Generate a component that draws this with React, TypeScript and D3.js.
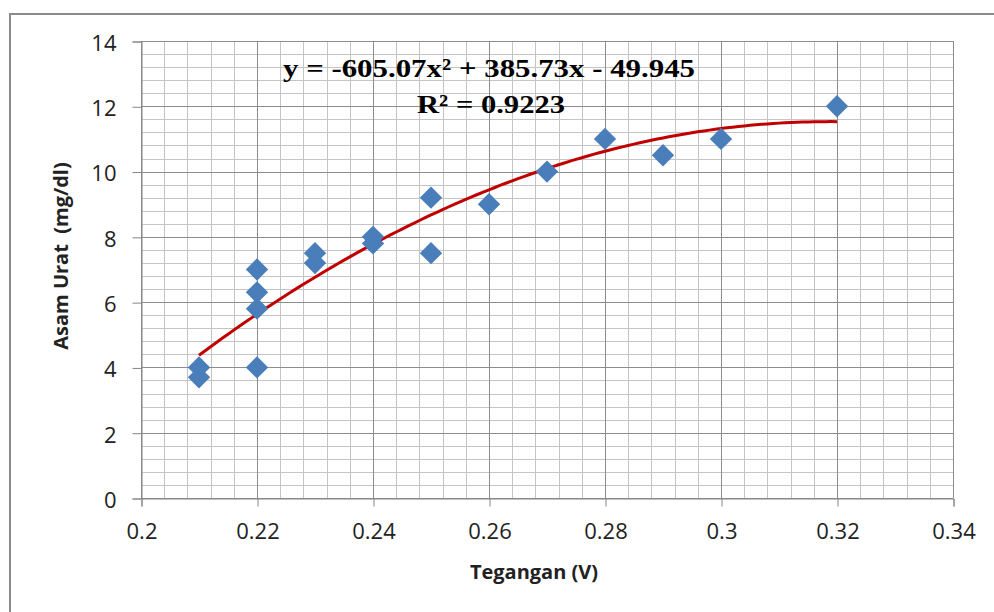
import React, { useRef, useEffect } from 'react';
import * as d3 from 'd3';

// values
const tegangan = [0.21, 0.21, 0.22, 0.22, 0.22, 0.22, 0.23, 0.23, 0.24, 0.24, 0.25, 0.25, 0.26, 0.27, 0.28, 0.29, 0.3, 0.32];
const asamUrat = [4.0, 3.7, 7.0, 6.3, 5.8, 4.0, 7.5, 7.2, 8.0, 7.8, 9.2, 7.5, 9.0, 10.0, 11.0, 10.5, 11.0, 12.0];
const xTicks = [0.2, 0.22, 0.24, 0.26, 0.28, 0.3, 0.32, 0.34];
const yTicks = [0, 2, 4, 6, 8, 10, 12, 14];
// trendline y = a*x^2 + b*x + c, as printed on the chart
const trendCoef = [-605.07, 385.73, -49.945];
const equationText = 'y = -605.07x² + 385.73x - 49.945';
const r2Text = 'R² = 0.9223';

function App() {
	const width = 994;
	const height = 612;
	const svgRef = useRef(null);

	useEffect(() => {
		const svg = d3.select(svgRef.current);
		svg.selectAll('*').remove();

		const xScale = d3.scaleLinear().domain([0.2, 0.34]).range([141, 953]);
		const yScale = d3.scaleLinear().domain([0, 14]).range([498, 41]);
		const [x0, x1] = xScale.range();
		const [y0, y1] = yScale.range();

		// chart border (runs off right and bottom)
		svg
			.append('rect')
			.attr('x', 10)
			.attr('y', 14)
			.attr('width', 1100)
			.attr('height', 800)
			.attr('fill', 'white')
			.attr('stroke', '#8a8a8a')
			.attr('stroke-width', 2);

		// minor grid
		const grid = svg.append('g').attr('shape-rendering', 'crispEdges');
		const minorX = d3.range(0, 36).map((i) => 0.2 + i * 0.004);
		const minorY = d3.range(0, 36).map((i) => i * 0.4);
		grid
			.selectAll('.mx')
			.data(minorX)
			.join('line')
			.attr('x1', (d) => Math.round(xScale(d)) + 0.5)
			.attr('x2', (d) => Math.round(xScale(d)) + 0.5)
			.attr('y1', y0)
			.attr('y2', y1)
			.attr('stroke', '#c4c4c4');
		grid
			.selectAll('.my')
			.data(minorY)
			.join('line')
			.attr('y1', (d) => Math.round(yScale(d)) + 0.5)
			.attr('y2', (d) => Math.round(yScale(d)) + 0.5)
			.attr('x1', x0)
			.attr('x2', x1)
			.attr('stroke', '#c4c4c4');
		// major grid
		grid
			.selectAll('.gx')
			.data(xTicks)
			.join('line')
			.attr('x1', (d) => Math.round(xScale(d)) + 0.5)
			.attr('x2', (d) => Math.round(xScale(d)) + 0.5)
			.attr('y1', y0)
			.attr('y2', y1)
			.attr('stroke', '#8c8c8c');
		grid
			.selectAll('.gy')
			.data(yTicks)
			.join('line')
			.attr('y1', (d) => Math.round(yScale(d)) + 0.5)
			.attr('y2', (d) => Math.round(yScale(d)) + 0.5)
			.attr('x1', x0)
			.attr('x2', x1)
			.attr('stroke', '#8c8c8c');

		// axes
		const xAxis = d3
			.axisBottom(xScale)
			.tickValues(xTicks)
			.tickSize(8)
			.tickPadding(14)
			.tickFormat((d) => String(+(+d).toFixed(2)));
		const gx = svg
			.append('g')
			.attr('transform', `translate(0.5,${Math.round(y0) + 0.5})`)
			.call(xAxis);
		const yAxis = d3.axisLeft(yScale).tickValues(yTicks).tickSize(9).tickPadding(16);
		const gy = svg
			.append('g')
			.attr('transform', `translate(${Math.round(x0) + 0.5},0.5)`)
			.call(yAxis);
		[gx, gy].forEach((g) => {
			g.select('.domain').attr('stroke', '#868686');
			g.selectAll('.tick line').attr('stroke', '#868686');
			g.selectAll('.tick text')
				.attr('fill', '#222')
				.style('font-family', '"Open Sans", sans-serif')
				.style('font-size', '22px');
		});
		gy.selectAll('.tick text').attr('dy', '0.4em');
		gx.selectAll('.tick text').attr('dy', '0.85em');

		// trendline from the printed equation
		const [a, b, c] = trendCoef;
		const trendX = d3.range(0, 111).map((i) => 0.21 + i * 0.001);
		const trendLine = d3
			.line()
			.x((d) => xScale(d))
			.y((d) => yScale(a * d * d + b * d + c));
		svg
			.append('path')
			.datum(trendX)
			.attr('d', trendLine)
			.attr('fill', 'none')
			.attr('stroke', '#c00000')
			.attr('stroke-width', 3);

		// points
		const diamond = d3.symbol().type(d3.symbolSquare).size(250);
		svg
			.append('g')
			.selectAll('path')
			.data(tegangan)
			.join('path')
			.attr('d', diamond)
			.attr('transform', (d, i) => `translate(${xScale(d)},${yScale(asamUrat[i])}) rotate(45)`)
			.attr('fill', '#4a7ebb');

		// trendline labels, stretched wide like the picture
		svg
			.append('text')
			.attr('x', 283)
			.attr('y', 77)
			.attr('textLength', 412)
			.attr('lengthAdjust', 'spacingAndGlyphs')
			.style('font-family', '"Liberation Serif", "Times New Roman", serif')
			.style('font-weight', 'bold')
			.style('font-size', '26px')
			.text(equationText);
		svg
			.append('text')
			.attr('x', 417)
			.attr('y', 113)
			.attr('textLength', 148)
			.attr('lengthAdjust', 'spacingAndGlyphs')
			.style('font-family', '"Liberation Serif", "Times New Roman", serif')
			.style('font-weight', 'bold')
			.style('font-size', '26px')
			.text(r2Text);

		svg
			.append('text')
			.attr('x', 534)
			.attr('y', 579)
			.attr('text-anchor', 'middle')
			.attr('fill', '#222')
			.style('font-family', '"Open Sans", sans-serif')
			.style('font-weight', 'bold')
			.style('font-size', '20px')
			.text('Tegangan (V)');
		svg
			.append('text')
			.attr('transform', 'translate(68,256) rotate(-90)')
			.attr('text-anchor', 'middle')
			.attr('fill', '#222')
			.style('font-family', '"Open Sans", sans-serif')
			.style('font-weight', 'bold')
			.style('font-size', '20px')
			.style('white-space', 'pre')
			.text('Asam Urat  (mg/dl)');
	}, []);

	return (
		<svg
			ref={svgRef}
			width={width}
			height={height}
			style={{ position: 'absolute', left: 0, top: 0, display: 'block', background: 'white' }}
		></svg>
	);
}

export default App;
